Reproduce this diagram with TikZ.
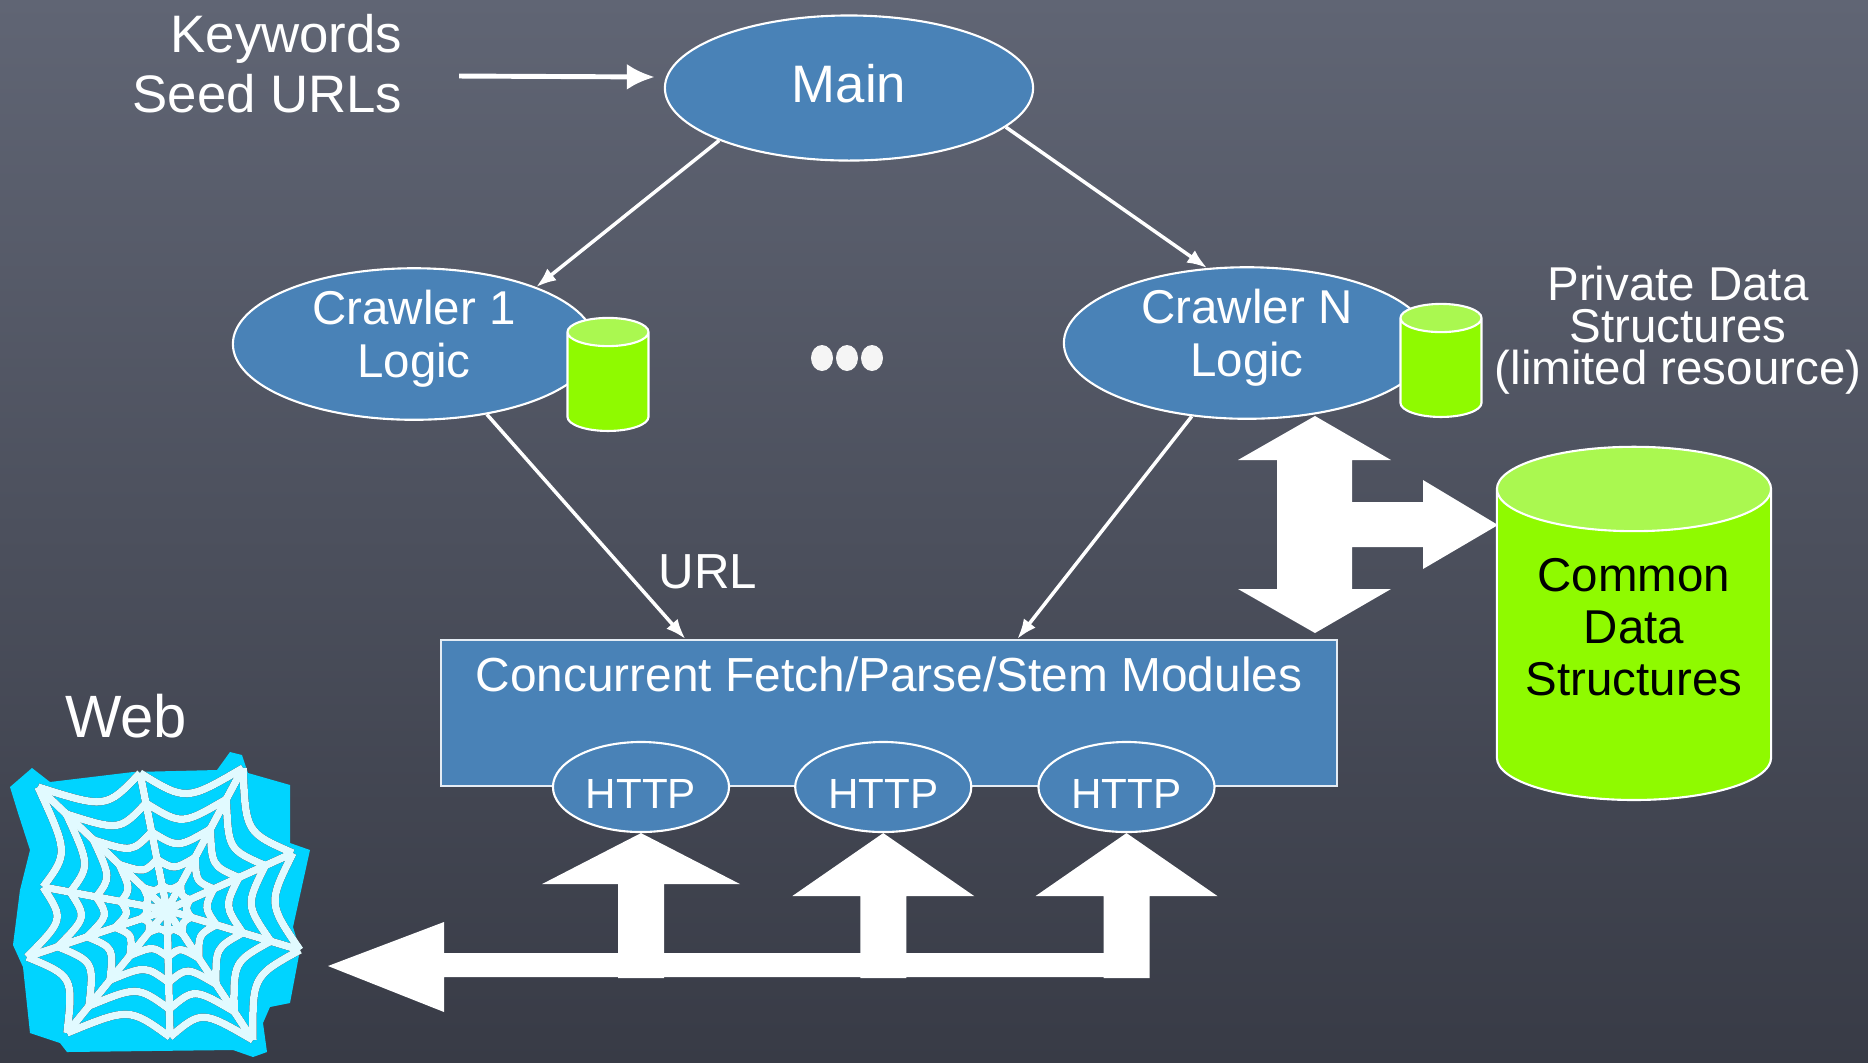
\documentclass[tikz,border=0pt]{standalone}
\usepackage{fontspec}
\setmainfont{Liberation Sans}
\usepackage{xcolor}
\usetikzlibrary{arrows.meta, positioning, shapes.geometric, calc}

\definecolor{slatetop}{RGB}{96,101,116}
\definecolor{slatebottom}{RGB}{56,59,70}
\definecolor{logicblue}{RGB}{73,130,183}
\definecolor{limebody}{RGB}{143,250,0}
\definecolor{limetop}{RGB}{170,248,80}
\definecolor{webcyan}{RGB}{0,212,255}
\definecolor{webwhite}{RGB}{225,250,255}

% spokes and rings of the web icon, drawn with the given style
\newcommand\webstrands[1]{%
  \foreach \i in {1,...,10} \draw[#1] (hub) -- (w\i);
  \foreach \ring in {0.18,0.37,0.57,0.78,1}{
    \foreach \i/\j in {1/2,2/3,3/4,4/5,5/6,6/7,7/8,8/9,9/10,10/1}
      \draw[#1] ($(hub)!\ring!(w\i)$) .. controls ($(hub)!0.78*\ring!(m\i)$) .. ($(hub)!\ring!(w\j)$);
  }
}

\begin{document}
\begin{tikzpicture}[
    x=0.01cm, y=-0.01cm,
    every node/.style={text=white},
    logic/.style={ellipse, draw=white, line width=0.6pt, fill=logicblue, inner sep=0pt, align=center},
    store/.style={cylinder, shape border rotate=90, draw=white, line width=0.6pt, cylinder uses custom fill, cylinder body fill=limebody, cylinder end fill=limetop, inner sep=0pt},
    cache/.style={store, minimum width=0.81cm, minimum height=1.13cm, text width=0.6cm, aspect=0.47},
    rel/.style={-{Latex[length=0.2cm, width=0.15cm]}, draw=white, line width=1pt},
    feed/.style={-{Latex[length=0.28cm, width=0.26cm]}, draw=white, line width=1.4pt},
    bigarrow/.style={fill=white},
]

\fill[top color=slatetop, bottom color=slatebottom] (0,0) rectangle (1868,1062);
\useasboundingbox (0,0) rectangle (1868,1062);

% Web icon
\fill[webcyan] (10,787) -- (32,768) -- (50,782) -- (133,772) -- (217,770) -- (230,752) -- (242,755) -- (248,773)
  -- (290,785) -- (290,843) -- (310,850) -- (293,927) -- (300,950) -- (290,1003) -- (270,1007) -- (263,1023)
  -- (267,1052) -- (253,1057) -- (233,1050) -- (67,1052) -- (60,1043) -- (30,1033) -- (23,967) -- (13,945)
  -- (20,890) -- (30,850) -- (18,813) -- cycle;
\coordinate (hub) at (167,910);
\foreach \x/\y [count=\i] in {38/787, 140/773, 243/768, 293/853, 300/950, 253/1040, 170/1037, 67/1033, 27/957, 43/887}
  \coordinate (w\i) at (\x,\y);
\foreach \i/\j in {1/2,2/3,3/4,4/5,5/6,6/7,7/8,8/9,9/10,10/1}
  \coordinate (m\i) at ($(w\i)!0.5!(w\j)$);
\begin{scope}[shift={(-5,5)}]
  \webstrands{black, line width=0.075cm}
\end{scope}
\webstrands{webwhite, line width=0.075cm}
\node[font=\fontsize{17}{20}\selectfont, inner sep=0pt] (weblabel) at (126,716) {Web};

% Main and crawlers
\node[logic, minimum width=3.68cm, minimum height=1.45cm, text depth=0.1cm, font=\fontsize{15}{17}\selectfont] (main) at (849,88) {Main};
\node[logic, minimum width=3.62cm, minimum height=1.45cm, text depth=0.2cm, font=\fontsize{13.5}{15}\selectfont] (crawler1) at (414,344) {Crawler 1\\Logic};
\node[logic, minimum width=3.66cm, minimum height=1.44cm, text depth=0.2cm, font=\fontsize{13.5}{15}\selectfont] (crawlerN) at (1247,343) {Crawler N\\Logic};
\node[cache] (cache1) at (608,382) {};
\node[cache] (cacheN) at (1441,368) {};
\foreach \x in {822,847,872} \fill[white!92!gray] (\x,358) ellipse [x radius=11, y radius=13];

% Inputs and notes
\node[align=right, font=\fontsize{15}{17}\selectfont, anchor=east, inner sep=0pt] (inputs) at (403,64) {Keywords\\Seed URLs};
\node[align=center, font=\fontsize{13.5}{12}\selectfont, inner sep=0pt] (privnote) at (1678,330) {Private Data\\Structures\\(limited resource)};

% Fetch modules
\node[rectangle, draw=white!85!logicblue, line width=0.6pt, fill=logicblue, minimum width=8.96cm, inner xsep=0pt, inner ysep=0pt,
  text height=0.51cm, text depth=0.95cm, anchor=base, font=\fontsize{13.6}{16}\selectfont] (fetch) at (889,691) {Concurrent Fetch/Parse/Stem Modules};
\node[logic, minimum width=1.76cm, minimum height=0.9cm, text height=0.42cm, font=\fontsize{12}{14}\selectfont] (http1) at (641,787) {HTTP};
\node[logic, minimum width=1.76cm, minimum height=0.9cm, text height=0.42cm, font=\fontsize{12}{14}\selectfont, right=0.64cm of http1] (http2) {HTTP};
\node[logic, minimum width=1.76cm, minimum height=0.9cm, text height=0.42cm, font=\fontsize{12}{14}\selectfont, right=0.65cm of http2] (http3) {HTTP};

% Shared store
\node[store, minimum width=2.74cm, minimum height=3.53cm, aspect=0.39, text=black, align=center, text depth=0.36cm,
  font=\fontsize{13.5}{14.8}\selectfont] (common) at (1634,645) {Common\\Data\\Structures};

% Connectors
\draw[feed] ([xshift=0.56cm, yshift=-0.12cm]inputs.east) -- ([xshift=-0.09cm, yshift=0.11cm]main.west);
\draw[rel] (main.202) -- (crawler1.25);
\draw[rel] (main.346) -- (crawlerN.118);
\draw[rel] (crawler1.316) -- node[pos=0.7, right=0.31cm, inner sep=0pt, font=\fontsize{14}{16}\selectfont] (urltag) {URL} (fetch.160);
\draw[rel] (crawlerN.233) -- (fetch.30);

% Block arrows
\fill[bigarrow] (1315,416) -- (1391,460) -- (1352,460) -- (1352,502) -- (1423,502) -- (1423,480) -- (1498,525)
  -- (1423,569) -- (1423,547) -- (1352,547) -- (1352,589) -- (1391,589) -- (1315,633) -- (1238,589)
  -- (1277,589) -- (1277,460) -- (1238,460) -- cycle;
\fill[bigarrow] (444,922) -- (328,966) -- (444,1012) -- (444,977) -- (1145,977) -- (1145,953) -- (444,953) -- cycle;
\foreach \h/\dy/\hw in {http1/51/99, http2/63/91, http3/63/91}
  \fill[bigarrow] (\h.south) -- ++(\hw,\dy) -- ++({23-\hw},0) -- ++(0,{145-\dy}) -- ++(-46,0)
    -- ++(0,{\dy-145}) -- ++({23-\hw},0) -- cycle;

\end{tikzpicture}
\end{document}
